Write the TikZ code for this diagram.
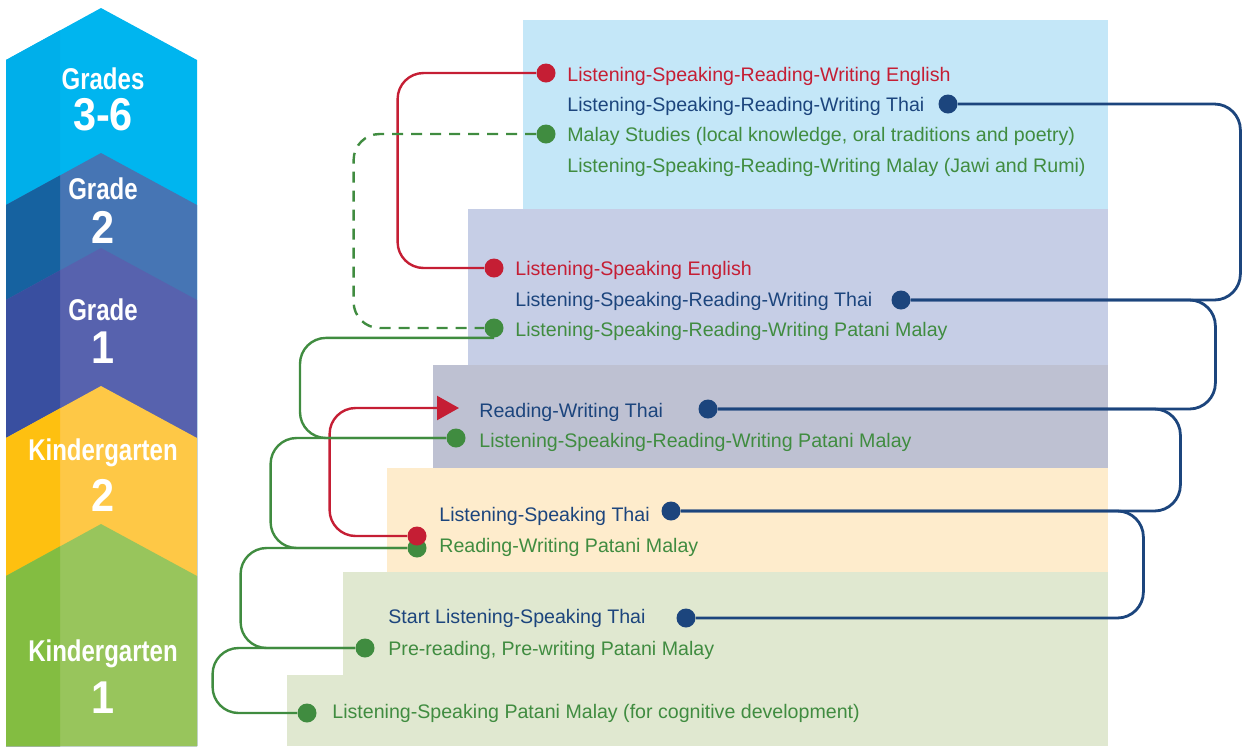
\documentclass[tikz,border=0pt]{standalone}
\usepackage{fontspec}
\setmainfont{Liberation Sans}
\newfontfamily\gradefont[FakeStretch=0.8]{Liberation Sans}
\newfontfamily\numfont[FakeStretch=0.9]{Liberation Sans}
\usetikzlibrary{arrows.meta}

\begin{document}
\begin{tikzpicture}[x=0.5pt, y=-0.5pt,
  entry/.style={anchor=base west, inner sep=0pt, font=\fontsize{9.8}{10}\selectfont},
  bullet/.style={circle, fill=#1, inner sep=0pt, minimum size=9.5pt},
  link/.style={line width=1.2pt, rounded corners=13pt},
  grade/.style={anchor=base, inner sep=0pt, text=white, font=\gradefont\bfseries\fontsize{15}{16}\selectfont},
  gradenum/.style={grade, font=\numfont\bfseries\fontsize{23}{24}\selectfont}]

% Colors
\definecolor{redc}{RGB}{197,30,52}     % red
\definecolor{bluec}{RGB}{28,69,125}    % navy
\definecolor{greenc}{RGB}{64,140,64}   % green
\definecolor{skyband}{RGB}{196,231,248}
\definecolor{lavband}{RGB}{198,206,230}
\definecolor{greyband}{RGB}{190,193,210}
\definecolor{creamband}{RGB}{254,236,204}
\definecolor{greenband}{RGB}{224,232,208}
\definecolor{gsixlight}{RGB}{0,181,239}
\definecolor{gsixdark}{RGB}{0,175,234}
\definecolor{gtwolight}{RGB}{70,117,180}
\definecolor{gtwodark}{RGB}{22,98,160}
\definecolor{gonelight}{RGB}{87,98,174}
\definecolor{gonedark}{RGB}{57,79,160}
\definecolor{ktwolight}{RGB}{254,200,70}
\definecolor{ktwodark}{RGB}{254,192,16}
\definecolor{konelight}{RGB}{152,197,92}
\definecolor{konedark}{RGB}{131,189,65}

\useasboundingbox (0,0) rectangle (1242,746);

% === Grade chevrons ===
\fill[gsixlight] (6,60) -- (101,8) -- (197,60) -- (197,746) -- (6,746) -- cycle;
\fill[gsixdark] (6,60) -- (60,30.4) -- (60,746) -- (6,746) -- cycle;
\fill[gtwolight] (6,205) -- (101,153) -- (197,205) -- (197,746) -- (6,746) -- cycle;
\fill[gtwodark] (6,205) -- (60,175.4) -- (60,746) -- (6,746) -- cycle;
\fill[gonelight] (6,300) -- (101,248) -- (197,300) -- (197,746) -- (6,746) -- cycle;
\fill[gonedark] (6,300) -- (60,270.4) -- (60,746) -- (6,746) -- cycle;
\fill[ktwolight] (6,438) -- (101,386) -- (197,438) -- (197,746) -- (6,746) -- cycle;
\fill[ktwodark] (6,438) -- (60,408.4) -- (60,746) -- (6,746) -- cycle;
\fill[konelight] (6,576) -- (101,524) -- (197,576) -- (197,746) -- (6,746) -- cycle;
\fill[konedark] (6,576) -- (60,546.4) -- (60,746) -- (6,746) -- cycle;

\node[grade] (l6a) at (103,89) {Grades};
\node[gradenum] (l6b) at (103,130) {3-6};
\node[grade] (l2a) at (103,199) {Grade};
\node[gradenum] (l2b) at (103,243) {2};
\node[grade] (l1a) at (103,320) {Grade};
\node[gradenum] (l1b) at (103,363) {1};
\node[grade] (lk2a) at (103,460) {Kindergarten};
\node[gradenum] (lk2b) at (103,511) {2};
\node[grade] (lk1a) at (103,661) {Kindergarten};
\node[gradenum] (lk1b) at (103,713) {1};

% === Bands ===
\fill[skyband] (523,20) rectangle (1108,209);
\fill[lavband] (468,209) rectangle (1108,365);
\fill[greyband] (433,365) rectangle (1108,468);
\fill[creamband] (387,468) rectangle (1108,572);
\fill[greenband] (343,572) rectangle (1108,675);
\fill[greenband] (287,675) rectangle (1108,746);

% === Grades 3-6 ===
\node[entry, text=redc] (t6a) at (567,81) {Listening-Speaking-Reading-Writing English};
\node[entry, text=bluec] (t6b) at (567,111) {Listening-Speaking-Reading-Writing Thai};
\node[entry, text=greenc] (t6c) at (567,141) {Malay Studies (local knowledge, oral traditions and poetry)};
\node[entry, text=greenc] (t6d) at (567,172) {Listening-Speaking-Reading-Writing Malay (Jawi and Rumi)};
\node[bullet=redc] (r6) at (546,73) {};
\node[bullet=bluec] (b6) at (948,104) {};
\node[bullet=greenc] (g6) at (546,134) {};

% === Grade 2 ===
\node[entry, text=redc] (t5a) at (515,275) {Listening-Speaking English};
\node[entry, text=bluec] (t5b) at (515,306) {Listening-Speaking-Reading-Writing Thai};
\node[entry, text=greenc] (t5c) at (515,336) {Listening-Speaking-Reading-Writing Patani Malay};
\node[bullet=redc] (r5) at (494,268) {};
\node[bullet=bluec] (b5) at (901,300) {};
\node[bullet=greenc] (g5) at (494,328) {};

% === Grade 1 ===
\node[entry, text=bluec] (t4a) at (479,417) {Reading-Writing Thai};
\node[entry, text=greenc] (t4b) at (479,447) {Listening-Speaking-Reading-Writing Patani Malay};
\coordinate (a4) at (459,408);
\node[bullet=bluec] (b4) at (708,409) {};
\node[bullet=greenc] (g4) at (456,438) {};

% === Kindergarten 2 ===
\node[entry, text=bluec] (t3a) at (439,521) {Listening-Speaking Thai};
\node[entry, text=greenc] (t3b) at (439,552) {Reading-Writing Patani Malay};
\node[bullet=bluec] (b3) at (671,511) {};
\node[bullet=greenc] (g3) at (417,548) {};
\node[bullet=redc] (r3) at (417,536) {};

% === Kindergarten 1 ===
\node[entry, text=bluec] (t2a) at (388,623) {Start Listening-Speaking Thai};
\node[entry, text=greenc] (t2b) at (388,655) {Pre-reading, Pre-writing Patani Malay};
\node[entry, text=greenc] (t1a) at (332,718) {Listening-Speaking Patani Malay (for cognitive development)};
\node[bullet=bluec] (b2) at (686,618) {};
\node[bullet=greenc] (g2) at (365,648) {};
\node[bullet=greenc] (g1) at (307,713) {};

% === English ===
\draw[link, redc] (r6.west) -- ++(-138.5,0) |- (r5.west);
\draw[link, redc, -{Triangle[length=11pt, width=12pt]}] (r3.west) -- ++(-77.5,0) |- (a4);

% === Thai ===
\draw[link, bluec, line width=1.4pt] (b6.east) -- ++(282.5,0) |- (b5.east);
\draw[link, bluec, line width=1.4pt] (b5.east) -- ++(304.5,0) |- (b4.east);
\draw[link, bluec, line width=1.4pt] (b4.east) -- ++(462.5,0) |- (b3.east);
\draw[link, bluec, line width=1.4pt] (b3.east) -- ++(462.5,0) |- (b2.east);

% === Malay ===
\draw[link, greenc, dash pattern=on 5.5pt off 4pt] (g6.west) -- ++(-182.5,0) |- (g5.west);
\draw[link, greenc] (g5.south) -- ++(-194,0) |- (g4.west);
\draw[link, greenc] (g4.west) -- ++(-175.5,0) |- (g3.west);
\draw[link, greenc] (g3.west) -- ++(-166.5,0) |- (g2.west);
\draw[link, greenc] (g2.west) -- ++(-142.5,0) |- (g1.west);

\end{tikzpicture}
\end{document}
